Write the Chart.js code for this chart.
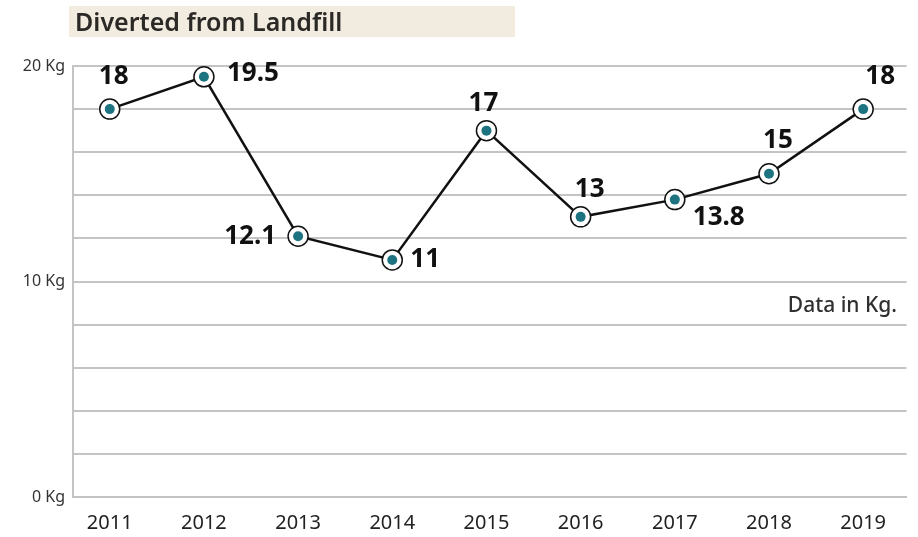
<!DOCTYPE html>
<html>
<head>
<meta charset="utf-8">
<script src="https://cdn.jsdelivr.net/npm/chart.js@4"></script>
<style>
  html, body { margin: 0; padding: 0; background: #ffffff; }
  #wrap { position: relative; width: 918px; height: 537px; overflow: hidden; font-family: "Noto Sans", "Open Sans", sans-serif; }
  #title { position: absolute; left: 69px; top: 6px; width: 440px; height: 31px; padding-left: 6px;
           background: #f2ebdf; color: #2b2926; font-size: 25px; font-weight: 600; line-height: 31px; white-space: nowrap; }
  #note { position: absolute; right: 21px; top: 294px; color: #2f2f2f; font-size: 21px; font-weight: 500; line-height: 21px; white-space: nowrap; }
  canvas { position: absolute; left: 0; top: 0; }
</style>
</head>
<body>
<div id="wrap">
  <canvas id="c" width="918" height="537"></canvas>
  <div id="title">Diverted from Landfill</div>
  <div id="note">Data in Kg.</div>
</div>
<script>
// ---- data ----
const years = ['2011', '2012', '2013', '2014', '2015', '2016', '2017', '2018', '2019'];
const diverted = [18, 19.5, 12.1, 11, 17, 13, 13.8, 15, 18];
const valueLabels = ['18', '19.5', '12.1', '11', '17', '13', '13.8', '15', '18'];
const yLabelValues = [0, 10, 20];
const yUnit = 'Kg';

// ---- label placement (style, not data) ----
const labelPlacement = [
  { align: 'center', dx: 4,   dy: -33 },
  { align: 'left',   dx: 23,  dy: -3 },
  { align: 'right',  dx: -22, dy: 0 },
  { align: 'left',   dx: 18,  dy: 0 },
  { align: 'center', dx: -3,  dy: -27 },
  { align: 'center', dx: 9,   dy: -27 },
  { align: 'left',   dx: 18,  dy: 18 },
  { align: 'center', dx: 9,   dy: -33 },
  { align: 'center', dx: 17,  dy: -33 }
];

const points = diverted.map((v, i) => ({ x: i, y: v }));

const valueLabelPlugin = {
  id: 'valueLabels',
  afterDatasetsDraw(chart) {
    const meta = chart.getDatasetMeta(1);
    const ctx = chart.ctx;
    ctx.save();
    ctx.font = 'bold 26px "Noto Sans", "Open Sans", sans-serif';
    ctx.fillStyle = '#111111';
    ctx.textBaseline = 'middle';
    meta.data.forEach((pt, i) => {
      const p = labelPlacement[i];
      ctx.textAlign = p.align;
      ctx.fillText(valueLabels[i], pt.x + p.dx, pt.y + p.dy);
    });
    ctx.restore();
  }
};

new Chart(document.getElementById('c'), {
  type: 'line',
  data: {
    datasets: [
      {
        label: 'dot',
        data: points,
        showLine: false,
        pointRadius: 5,
        pointHoverRadius: 5,
        pointBackgroundColor: '#1d7480',
        pointBorderWidth: 0,
        order: 0,
        clip: false
      },
      {
        label: 'Diverted from Landfill',
        data: points,
        borderColor: '#111111',
        borderWidth: 2.5,
        tension: 0,
        pointRadius: 10,
        pointHoverRadius: 10,
        pointBackgroundColor: '#ffffff',
        pointBorderColor: '#111111',
        pointBorderWidth: 1.5,
        order: 1,
        clip: false
      }
    ]
  },
  options: {
    responsive: false,
    animation: false,
    events: [],
    layout: { padding: { top: 66, left: 0, right: 4, bottom: 0 } },
    plugins: {
      legend: { display: false },
      tooltip: { enabled: false },
      title: { display: false }
    },
    scales: {
      x: {
        type: 'linear',
        min: -0.39,
        max: 8.46,
        afterFit(scale) { scale.height = 40; },
        grid: { display: false, drawTicks: false },
        border: { display: true, color: '#c4c4c4', width: 2 },
        ticks: {
          stepSize: 1,
          includeBounds: false,
          autoSkip: false,
          maxRotation: 0,
          padding: 14,
          color: '#222222',
          font: { family: '"Noto Sans", "Open Sans", sans-serif', size: 20 },
          callback: (v) => (Number.isInteger(v) && years[v] !== undefined) ? years[v] : ''
        }
      },
      y: {
        min: 0,
        max: 20,
        afterFit(scale) { scale.width = 73; },
        grid: { color: '#c4c4c4', lineWidth: 2, drawTicks: false },
        border: { display: true, color: '#c4c4c4', width: 2 },
        ticks: {
          stepSize: 2,
          padding: 8,
          color: '#333333',
          font: { family: '"Noto Sans", "Open Sans", sans-serif', size: 16 },
          callback: (v) => yLabelValues.includes(v) ? v + ' ' + yUnit : ''
        }
      }
    }
  },
  plugins: [valueLabelPlugin]
});
</script>
</body>
</html>
